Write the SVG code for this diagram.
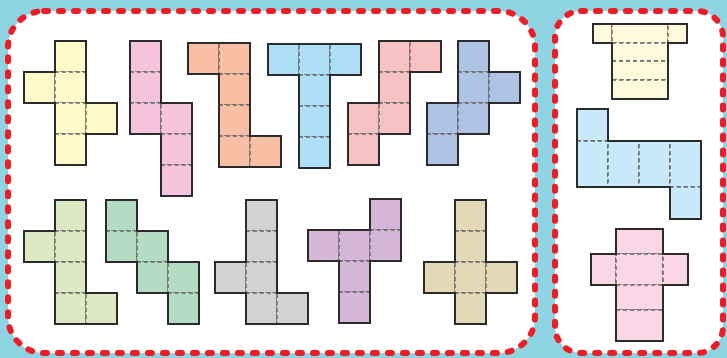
<svg xmlns="http://www.w3.org/2000/svg" width="727" height="358" viewBox="0 0 727 358">
<style>
.panel{fill:#fff;stroke:#ee1d25;stroke-width:6;stroke-linecap:round;stroke-dasharray:4 11}
.c{stroke:#666;stroke-width:1.5;stroke-dasharray:4 3}
.o{fill:none;stroke:#2b2b2b;stroke-width:2;stroke-linejoin:miter}
</style>
<rect width="727" height="358" fill="#8fd4e3"/>
<rect class="panel" x="8" y="11" width="527" height="342" rx="36"/>
<rect class="panel" x="555" y="11" width="168" height="342" rx="26"/>
<defs>
<rect id="q" width="31" height="31"/>
</defs>
<g id="p1" transform="translate(24,41)" fill="#fffac8">
<use href="#q" class="c" x="31" y="0"/><use href="#q" class="c" x="0" y="31"/><use href="#q" class="c" x="31" y="31"/><use href="#q" class="c" x="31" y="62"/><use href="#q" class="c" x="62" y="62"/><use href="#q" class="c" x="31" y="93"/>
<path class="o" d="M31 0H62V62H93V93H62V124H31V62H0V31H31Z"/>
</g>
<g id="p2" transform="translate(130,41)" fill="#f6c3dc">
<use href="#q" class="c" x="0" y="0"/><use href="#q" class="c" x="0" y="31"/><use href="#q" class="c" x="0" y="62"/><use href="#q" class="c" x="31" y="62"/><use href="#q" class="c" x="31" y="93"/><use href="#q" class="c" x="31" y="124"/>
<path class="o" d="M0 0H31V62H62V155H31V93H0Z"/>
</g>
<g id="p3" transform="translate(188,43)" fill="#f9bfa5">
<use href="#q" class="c" x="0" y="0"/><use href="#q" class="c" x="31" y="0"/><use href="#q" class="c" x="31" y="31"/><use href="#q" class="c" x="31" y="62"/><use href="#q" class="c" x="31" y="93"/><use href="#q" class="c" x="62" y="93"/>
<path class="o" d="M0 0H62V93H93V124H31V31H0Z"/>
</g>
<g id="p4" transform="translate(268,44)" fill="#addff8">
<use href="#q" class="c" x="0" y="0"/><use href="#q" class="c" x="31" y="0"/><use href="#q" class="c" x="62" y="0"/><use href="#q" class="c" x="31" y="31"/><use href="#q" class="c" x="31" y="62"/><use href="#q" class="c" x="31" y="93"/>
<path class="o" d="M0 0H93V31H62V124H31V31H0Z"/>
</g>
<g id="p5" transform="translate(348,41)" fill="#f8c1c2">
<use href="#q" class="c" x="31" y="0"/><use href="#q" class="c" x="62" y="0"/><use href="#q" class="c" x="31" y="31"/><use href="#q" class="c" x="0" y="62"/><use href="#q" class="c" x="31" y="62"/><use href="#q" class="c" x="0" y="93"/>
<path class="o" d="M31 0H93V31H62V93H31V124H0V62H31Z"/>
</g>
<g id="p6" transform="translate(427,41)" fill="#afc3e4">
<use href="#q" class="c" x="31" y="0"/><use href="#q" class="c" x="31" y="31"/><use href="#q" class="c" x="62" y="31"/><use href="#q" class="c" x="0" y="62"/><use href="#q" class="c" x="31" y="62"/><use href="#q" class="c" x="0" y="93"/>
<path class="o" d="M31 0H62V31H93V62H62V93H31V124H0V62H31Z"/>
</g>
<g id="p7" transform="translate(24,200)" fill="#dce9c3">
<use href="#q" class="c" x="31" y="0"/><use href="#q" class="c" x="0" y="31"/><use href="#q" class="c" x="31" y="31"/><use href="#q" class="c" x="31" y="62"/><use href="#q" class="c" x="31" y="93"/><use href="#q" class="c" x="62" y="93"/>
<path class="o" d="M31 0H62V93H93V124H31V62H0V31H31Z"/>
</g>
<g id="p8" transform="translate(106,200)" fill="#b3dcc2">
<use href="#q" class="c" x="0" y="0"/><use href="#q" class="c" x="0" y="31"/><use href="#q" class="c" x="31" y="31"/><use href="#q" class="c" x="31" y="62"/><use href="#q" class="c" x="62" y="62"/><use href="#q" class="c" x="62" y="93"/>
<path class="o" d="M0 0H31V31H62V62H93V124H62V93H31V62H0Z"/>
</g>
<g id="p9" transform="translate(215,200)" fill="#d1d3d5">
<use href="#q" class="c" x="31" y="0"/><use href="#q" class="c" x="31" y="31"/><use href="#q" class="c" x="0" y="62"/><use href="#q" class="c" x="31" y="62"/><use href="#q" class="c" x="31" y="93"/><use href="#q" class="c" x="62" y="93"/>
<path class="o" d="M31 0H62V93H93V124H31V93H0V62H31Z"/>
</g>
<g id="p10" transform="translate(308,199)" fill="#d4b6d6">
<use href="#q" class="c" x="62" y="0"/><use href="#q" class="c" x="0" y="31"/><use href="#q" class="c" x="31" y="31"/><use href="#q" class="c" x="62" y="31"/><use href="#q" class="c" x="31" y="62"/><use href="#q" class="c" x="31" y="93"/>
<path class="o" d="M62 0H93V62H62V124H31V62H0V31H62Z"/>
</g>
<g id="p11" transform="translate(424,200)" fill="#e4d9b6">
<use href="#q" class="c" x="31" y="0"/><use href="#q" class="c" x="31" y="31"/><use href="#q" class="c" x="0" y="62"/><use href="#q" class="c" x="31" y="62"/><use href="#q" class="c" x="62" y="62"/><use href="#q" class="c" x="31" y="93"/>
<path class="o" d="M31 0H62V62H93V93H62V124H31V93H0V62H31Z"/>
</g>
<g id="p12" fill="#fffadb">
<rect class="c" x="593" y="24" width="19" height="19"/><rect class="c" x="612" y="24" width="56" height="19"/><rect class="c" x="668" y="24" width="19" height="19"/><rect class="c" x="612" y="43" width="56" height="18"/><rect class="c" x="612" y="61" width="56" height="19"/><rect class="c" x="612" y="80" width="56" height="19"/>
<path class="o" d="M593 24H687V43H668V99H612V43H593Z"/>
</g>
<g id="p13" fill="#c8e9f9">
<rect class="c" x="577" y="109" width="31" height="32"/><rect class="c" x="577" y="141" width="31" height="46"/><rect class="c" x="608" y="141" width="31" height="46"/><rect class="c" x="639" y="141" width="31" height="46"/><rect class="c" x="670" y="141" width="31" height="46"/><rect class="c" x="670" y="187" width="31" height="32"/>
<path class="o" d="M577 109H608V141H701V219H670V187H577Z"/>
</g>
<g id="p14" fill="#fad6e6">
<rect class="c" x="616" y="229" width="47" height="25"/><rect class="c" x="591" y="254" width="25" height="31"/><rect class="c" x="616" y="254" width="47" height="31"/><rect class="c" x="663" y="254" width="25" height="31"/><rect class="c" x="616" y="285" width="47" height="25"/><rect class="c" x="616" y="310" width="47" height="31"/>
<path class="o" d="M616 229H663V254H688V285H663V341H616V285H591V254H616Z"/>
</g>
<g id="connectors"/>
</svg>
